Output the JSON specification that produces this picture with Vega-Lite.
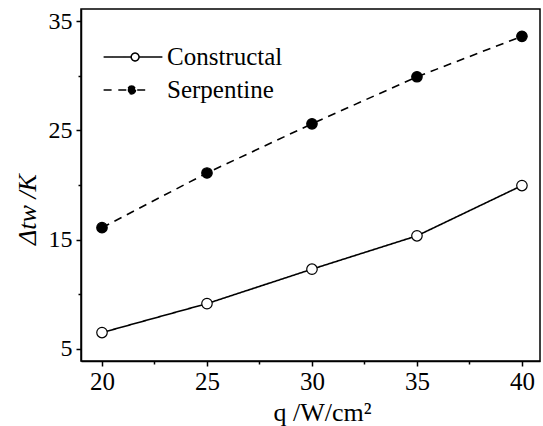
{
  "$schema": "https://vega.github.io/schema/vega-lite/v6.json",
  "width": 459,
  "height": 352,
  "autosize": {"type": "none"},
  "padding": {"left": 81, "top": 9, "right": 3, "bottom": 65},
  "background": "white",
  "config": {
    "view": {"stroke": "black", "strokeWidth": 1.5}
  },
  "data": {
    "values": [
      {"q": 20, "dt": 6.5, "series": "Constructal"},
      {"q": 25, "dt": 9.15, "series": "Constructal"},
      {"q": 30, "dt": 12.3, "series": "Constructal"},
      {"q": 35, "dt": 15.35, "series": "Constructal"},
      {"q": 40, "dt": 19.95, "series": "Constructal"},
      {"q": 20, "dt": 16.1, "series": "Serpentine"},
      {"q": 25, "dt": 21.1, "series": "Serpentine"},
      {"q": 30, "dt": 25.6, "series": "Serpentine"},
      {"q": 35, "dt": 29.9, "series": "Serpentine"},
      {"q": 40, "dt": 33.6, "series": "Serpentine"}
    ]
  },
  "encoding": {
    "x": {
      "field": "q",
      "type": "quantitative",
      "scale": {"domain": [19, 40.86], "nice": false, "zero": false},
      "axis": {
        "values": [20, 22.5, 25, 27.5, 30, 32.5, 35, 37.5, 40],
        "labelExpr": "datum.value % 5 == 0 ? datum.label : ''",
        "tickSize": {"condition": {"test": "datum.value % 5 == 0", "value": 5}, "value": 3},
        "grid": false,
        "domainColor": "black",
        "domainWidth": 1.5,
        "tickColor": "black",
        "tickWidth": 1.5,
        "labelColor": "black",
        "labelFont": "Liberation Serif, DejaVu Serif, serif",
        "labelFontSize": 25,
        "labelPadding": 3,
        "title": "q /W/cm²",
        "titleFont": "Liberation Serif, DejaVu Serif, serif",
        "titleFontWeight": "normal",
        "titleColor": "black",
        "titleFontSize": 26,
        "titleX": 241,
        "titleY": 59,
        "titleBaseline": "alphabetic",
        "titleAnchor": "middle",
        "titleAlign": "center"
      }
    },
    "y": {
      "field": "dt",
      "type": "quantitative",
      "scale": {"domain": [3.9, 36.1], "nice": false, "zero": false},
      "axis": {
        "values": [5, 10, 15, 20, 25, 30, 35],
        "labelExpr": "datum.value % 10 == 5 ? datum.label : ''",
        "tickSize": {"condition": {"test": "datum.value % 10 == 5", "value": 5}, "value": 3},
        "grid": false,
        "domainColor": "black",
        "domainWidth": 1.5,
        "tickColor": "black",
        "tickWidth": 1.5,
        "labelColor": "black",
        "labelFont": "Liberation Serif, DejaVu Serif, serif",
        "labelFontSize": 24,
        "labelPadding": 4,
        "title": "Δtw /K",
        "titleFont": "Liberation Serif, DejaVu Serif, serif",
        "titleFontWeight": "normal",
        "titleColor": "black",
        "titleFontSize": 26,
        "titleFontStyle": "italic",
        "titleAngle": -90,
        "titleX": -54,
        "titleY": 200,
        "titleBaseline": "middle",
        "titleAlign": "center"
      }
    }
  },
  "layer": [
    {
      "mark": {"type": "line", "color": "black", "strokeWidth": 1.6},
      "encoding": {
        "strokeDash": {
          "field": "series",
          "type": "nominal",
          "scale": {"domain": ["Constructal", "Serpentine"], "range": [[1, 0], [8, 6]]},
          "legend": {
            "title": null,
            "orient": "none",
            "legendX": 37,
            "legendY": 33,
            "padding": 0,
            "symbolSize": 784,
            "symbolStrokeColor": "black",
            "symbolStrokeWidth": 1.5,
            "labelFont": "Liberation Serif, DejaVu Serif, serif",
            "labelFontSize": 25,
            "labelColor": "black",
            "labelOffset": 19,
            "rowPadding": 5,
            "encode": {
              "symbols": {
                "update": {
                  "shape": {"signal": "datum.value === 'Serpentine' ? 'M-2.1,0H-1.5M-1.05,0H-0.45M0.3,0H0.95M0.18,0A0.28,0.28 0 1,1 -0.38,0A0.28,0.28 0 1,1 0.18,0Z' : 'M-2.1,0H-0.13M0.43,0H2.1M0.43,0A0.28,0.28 0 1,1 -0.13,0A0.28,0.28 0 1,1 0.43,0Z'"},
                  "fill": {"signal": "datum.value === 'Serpentine' ? 'black' : 'white'"},
                  "fillOpacity": {"value": 1},
                  "strokeDash": {"value": [1, 0]},
                  "stroke": {"value": "black"},
                  "strokeWidth": {"value": 1.5},
                  "opacity": {"value": 1}
                }
              }
            }
          }
        }
      }
    },
    {
      "mark": {"type": "circle", "size": 110, "stroke": "black", "strokeWidth": 1.2, "opacity": 1},
      "encoding": {
        "fill": {
          "condition": {"test": "datum.series === 'Serpentine'", "value": "black"},
          "value": "white"
        }
      }
    }
  ]
}
